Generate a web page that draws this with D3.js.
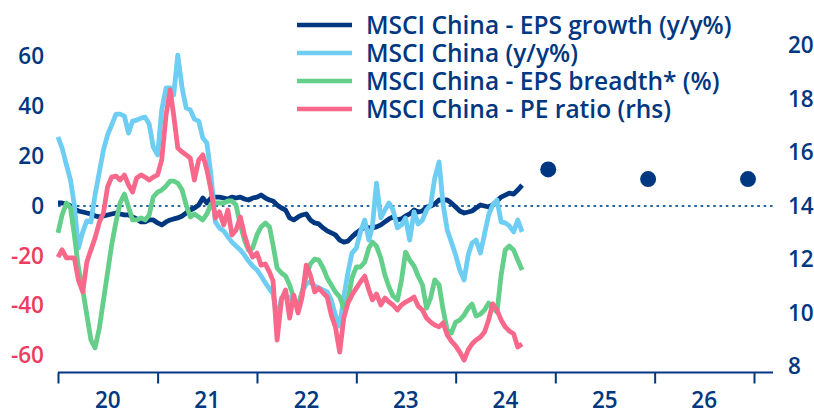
<!DOCTYPE html>
<html lang="en">
<head>
  <meta charset="UTF-8">
  <title>MSCI China</title>
  <style>
    body { margin: 0; background: #fff; }
    svg text { font-family: "Open Sans", Lato, sans-serif; font-weight: 600; }
  </style>
</head>
<body>

  <svg id="svg" width="814" height="414"></svg>

  <script src="https://d3js.org/d3.v7.min.js"></script>
  <script>

    // semi-monthly observations, Jan 2020 - Sep 2024
    const dates = d3.range(113).map(i => new Date(2020, Math.floor(i / 2), i % 2 ? 16 : 1))

    // MSCI China - EPS growth (y/y%), lhs
    const epsGrowth = [
      1.2, 1.2, 0.8, 0, -1.2, -2.0, -2.4, -2.8, -3.2, -4.0, -4.4, -4.0, -3.6, -3.2, -2.8, -3.2,
      -3.6, -3.6, -4.4, -5.2, -6.4, -6.4, -5.6, -5.6, -6.8, -7.6, -6.4, -5.6, -5.2, -4.8, -4.0, -2.8,
      -1.6, -0.8, 0.4, 3.2, 1.2, 3.2, 3.6, 3.6, 3.2, 2.8, 3.6, 3.2, 3.6, 2.8, 2.4, 3.2,
      3.6, 4.4, 3.2, 2.4, 2.0, 0.4, -0.8, -1.6, -4.8, -5.6, -4.4, -3.6, -3.2, -5.6, -6.8, -7.2,
      -8.8, -10.0, -10.8, -11.6, -13.7, -14.5, -14.1, -12.4, -10.8, -9.6, -8.4, -8.8, -8.8, -8.4, -7.6, -6.4,
      -5.2, -4.4, -5.6, -5.2, -4.0, -3.2, -1.6, -2.4, -2.0, -0.4, 0, 0.8, 2.4, 2.4, 2.4, 1.2,
      -0.4, -2.0, -2.8, -2.4, -2.0, -0.8, 0.4, 0, -0.4, 0.4, 2.0, 3.6, 4.4, 5.2, 4.8, 6.4, 8.4
    ]

    // MSCI China (y/y%), lhs
    const msciYoY = [
      27.7, 23.3, 16.5, 10.4, 0.4, -16.9, -10.4, -6.0, -6.4, 4.4, 13.7, 22.5, 28.5, 32.5, 36.9, 36.9,
      36.1, 29.3, 34.1, 34.5, 35.3, 35.7, 32.9, 23.7, 20.5, 38.6, 47.4, 47.4, 44.6, 60.6, 47.4, 39.4,
      38.6, 34.9, 34.1, 27.3, 25.3, 12.4, -6.4, -8.8, -10.0, -12.4, -14.5, -16.1, -17.7, -19.7, -22.1, -24.1,
      -25.7, -28.1, -30.9, -33.3, -35.3, -45.8, -36.9, -35.7, -36.9, -39.0, -39.8, -34.5, -31.3, -30.5, -32.1, -32.9,
      -33.7, -34.5, -37.8, -43.8, -48.2, -36.5, -26.9, -18.9, -16.9, -10.4, -5.6, -13.7, -8.4, 9.2, -4.8, -1.6,
      1.2, -1.6, -8.8, -7.6, -4.8, -13.7, -2.4, -7.2, -5.6, -1.6, 0.4, 11.2, 17.7, 0.4, -9.6, -14.5,
      -19.7, -25.7, -29.7, -19.7, -14.9, -13.7, -18.9, -11.2, -3.6, 0.4, 2.4, -6.4, -6.8, -8.0, -10.4, -5.6, -10.4
    ]

    // MSCI China - EPS breadth* (%), lhs
    const epsBreadth = [
      -10.8, -3.6, 1.2, -0.8, -11.6, -24.9, -33.7, -43.8, -53.8, -57.0, -49.0, -37.8, -26.9, -15.7, -6.4, 1.2,
      4.8, -0.4, -5.6, -5.6, -4.8, -5.6, -3.6, 3.6, 5.6, 6.4, 8.0, 10.0, 10.0, 9.2, 6.4, 0.4,
      -4.4, -3.2, -4.4, -5.6, -3.2, 0.8, 1.2, 1.2, 1.2, 2.0, 2.0, 0.4, -7.6, -13.7, -17.7, -16.9,
      -11.6, -8.4, -6.8, -8.4, -15.7, -24.9, -26.9, -28.1, -31.7, -36.9, -40.6, -34.5, -28.1, -23.3, -21.3, -21.7,
      -24.9, -28.9, -31.7, -34.5, -36.5, -41.0, -37.8, -28.9, -24.5, -24.5, -22.5, -16.9, -14.5, -16.1, -20.9, -27.7,
      -32.5, -36.1, -37.8, -29.7, -18.5, -21.7, -24.1, -28.1, -31.7, -41.0, -36.9, -29.7, -31.7, -41.8, -49.8, -51.0,
      -46.6, -45.8, -43.8, -41.0, -39.4, -44.2, -43.4, -41.8, -39.0, -41.0, -42.6, -27.7, -17.7, -16.1, -17.7, -21.7, -25.7
    ]

    // MSCI China - PE ratio, rhs
    const peRatio = [
      12.09, 12.36, 12.06, 12.06, 12.06, 11.23, 10.79, 11.91, 12.36, 12.80, 13.40, 13.74, 14.71, 15.08, 15.12, 14.97,
      15.16, 14.79, 14.52, 15.05, 15.16, 15.08, 14.97, 15.08, 15.16, 15.72, 17.40, 18.34, 17.40, 16.17, 16.02, 15.91,
      15.79, 14.97, 15.72, 15.91, 15.35, 14.60, 13.55, 13.78, 13.29, 13.85, 12.92, 13.10, 13.59, 12.92, 12.43, 12.09,
      12.24, 11.79, 11.83, 11.53, 11.20, 8.99, 10.49, 10.86, 9.81, 10.67, 10.00, 10.60, 11.79, 11.42, 10.79, 10.93,
      10.75, 10.60, 9.93, 9.48, 8.54, 9.81, 10.37, 10.67, 10.93, 11.16, 11.38, 10.86, 10.49, 10.71, 10.30, 10.56,
      10.41, 10.30, 10.11, 10.30, 10.41, 10.49, 10.60, 10.26, 10.11, 9.81, 9.66, 9.55, 9.48, 9.63, 9.18, 8.95,
      8.77, 8.54, 8.24, 8.62, 8.84, 8.99, 9.10, 9.29, 9.74, 10.34, 10.11, 9.74, 9.48, 9.33, 9.22, 8.73, 8.84
    ]

    // EPS growth consensus forecasts (dots), lhs
    const forecastDates = [new Date(2024, 11, 6), new Date(2025, 11, 8), new Date(2026, 11, 10)]
    const forecastEps = [14.7, 10.8, 10.8]

    const years = d3.range(2020, 2028)
    const yearLabels = ['20', '21', '22', '23', '24', '25', '26']
    const leftTicks = [60, 40, 20, 0, -20, -40, -60]
    const rightTicks = [20, 18, 16, 14, 12, 10, 8]

    const seriesNames = [
      'MSCI China - EPS growth (y/y%)',
      'MSCI China (y/y%)',
      'MSCI China - EPS breadth* (%)',
      'MSCI China - PE ratio (rhs)'
    ]

    const navy = '#003781'
    const colors = [navy, '#6dcdf3', '#63cf8a', '#f7688b']

    const x = d3.scaleTime()
      .domain([new Date(2020, 0, 1), new Date(2027, 0, 1)])
      .range([58, 754])

    const yL = d3.scaleLinear()
      .domain([-60, 60])
      .range([355.4, 56.6])

    const yR = d3.scaleLinear()
      .domain([8, 20])
      .range([366.5, 45.5])

    const svg = d3.select('#svg')
    const baseY = 372.5
    const fs = 22.5

    // zero line
    svg.append('line')
      .attr('x1', 58).attr('x2', 773)
      .attr('y1', yL(0)).attr('y2', yL(0))
      .attr('stroke', '#2467a3')
      .attr('stroke-width', 2)
      .attr('stroke-dasharray', '2.6,3.7')

    // left axis
    const gL = svg.append('g')
      .attr('transform', 'translate(47,0)')
      .call(d3.axisLeft(yL).tickValues(leftTicks).tickSize(0).tickPadding(3).tickFormat(d => String(d)))
    gL.select('.domain').remove()
    gL.selectAll('text')
      .attr('font-size', fs)
      .attr('fill', d => d < 0 ? '#ef3b62' : navy)

    // right axis
    const gR = svg.append('g')
      .attr('transform', 'translate(785,0)')
      .call(d3.axisRight(yR).tickValues(rightTicks).tickSize(0).tickPadding(3))
    gR.select('.domain').remove()
    gR.selectAll('text')
      .attr('font-size', fs)
      .attr('fill', navy)
    gL.attr('font-family', null).attr('font-size', null)
    gR.attr('font-family', null).attr('font-size', null)

    // x axis
    svg.append('line')
      .attr('x1', 58).attr('x2', 773)
      .attr('y1', baseY).attr('y2', baseY)
      .attr('stroke', navy)
      .attr('stroke-width', 2)

    const gX = svg.append('g')
      .attr('transform', `translate(0,${baseY})`)
      .call(d3.axisBottom(x)
        .tickValues(years.map(y => new Date(y, 0, 1)))
        .tickSize(11)
        .tickFormat(''))
    gX.select('.domain').remove()
    gX.selectAll('.tick line')
      .attr('stroke', navy)
      .attr('stroke-width', 2)

    svg.append('g')
      .selectAll('text')
      .data(yearLabels)
      .enter()
      .append('text')
      .attr('x', (d, i) => x(new Date(2020 + i, 6, 2)))
      .attr('y', 400.5)
      .attr('dy', '0.35em')
      .attr('text-anchor', 'middle')
      .attr('font-size', fs)
      .attr('fill', navy)
      .text(d => d)

    // lines
    const lineL = d3.line()
      .x((d, i) => x(dates[i]))
      .y(d => yL(d))

    const lineR = d3.line()
      .x((d, i) => x(dates[i]))
      .y(d => yR(d))

    const series = [
      { values: epsGrowth, line: lineL },
      { values: msciYoY, line: lineL },
      { values: epsBreadth, line: lineL },
      { values: peRatio, line: lineR }
    ]

    svg.append('g')
      .selectAll('path')
      .data(series)
      .enter()
      .append('path')
      .attr('d', d => d.line(d.values))
      .attr('fill', 'none')
      .attr('stroke', (d, i) => colors[i])
      .attr('stroke-width', 4.8)
      .attr('stroke-linejoin', 'round')

    // forecast dots
    svg.append('g')
      .selectAll('circle')
      .data(forecastEps)
      .enter()
      .append('circle')
      .attr('cx', (d, i) => x(forecastDates[i]))
      .attr('cy', d => yL(d))
      .attr('r', 8)
      .attr('fill', navy)

    // legend
    const legend = svg.append('g')
      .selectAll('g')
      .data(seriesNames)
      .enter()
      .append('g')
      .attr('transform', (d, i) => `translate(0,${25 + i * 28})`)

    legend.append('line')
      .attr('x1', 297).attr('x2', 352)
      .attr('stroke', (d, i) => colors[i])
      .attr('stroke-width', 4.5)

    legend.append('text')
      .attr('x', 366)
      .attr('dy', '0.35em')
      .attr('font-size', 24.5)
      .attr('fill', navy)
      .text(d => d)

  </script>
</body>
</html>
